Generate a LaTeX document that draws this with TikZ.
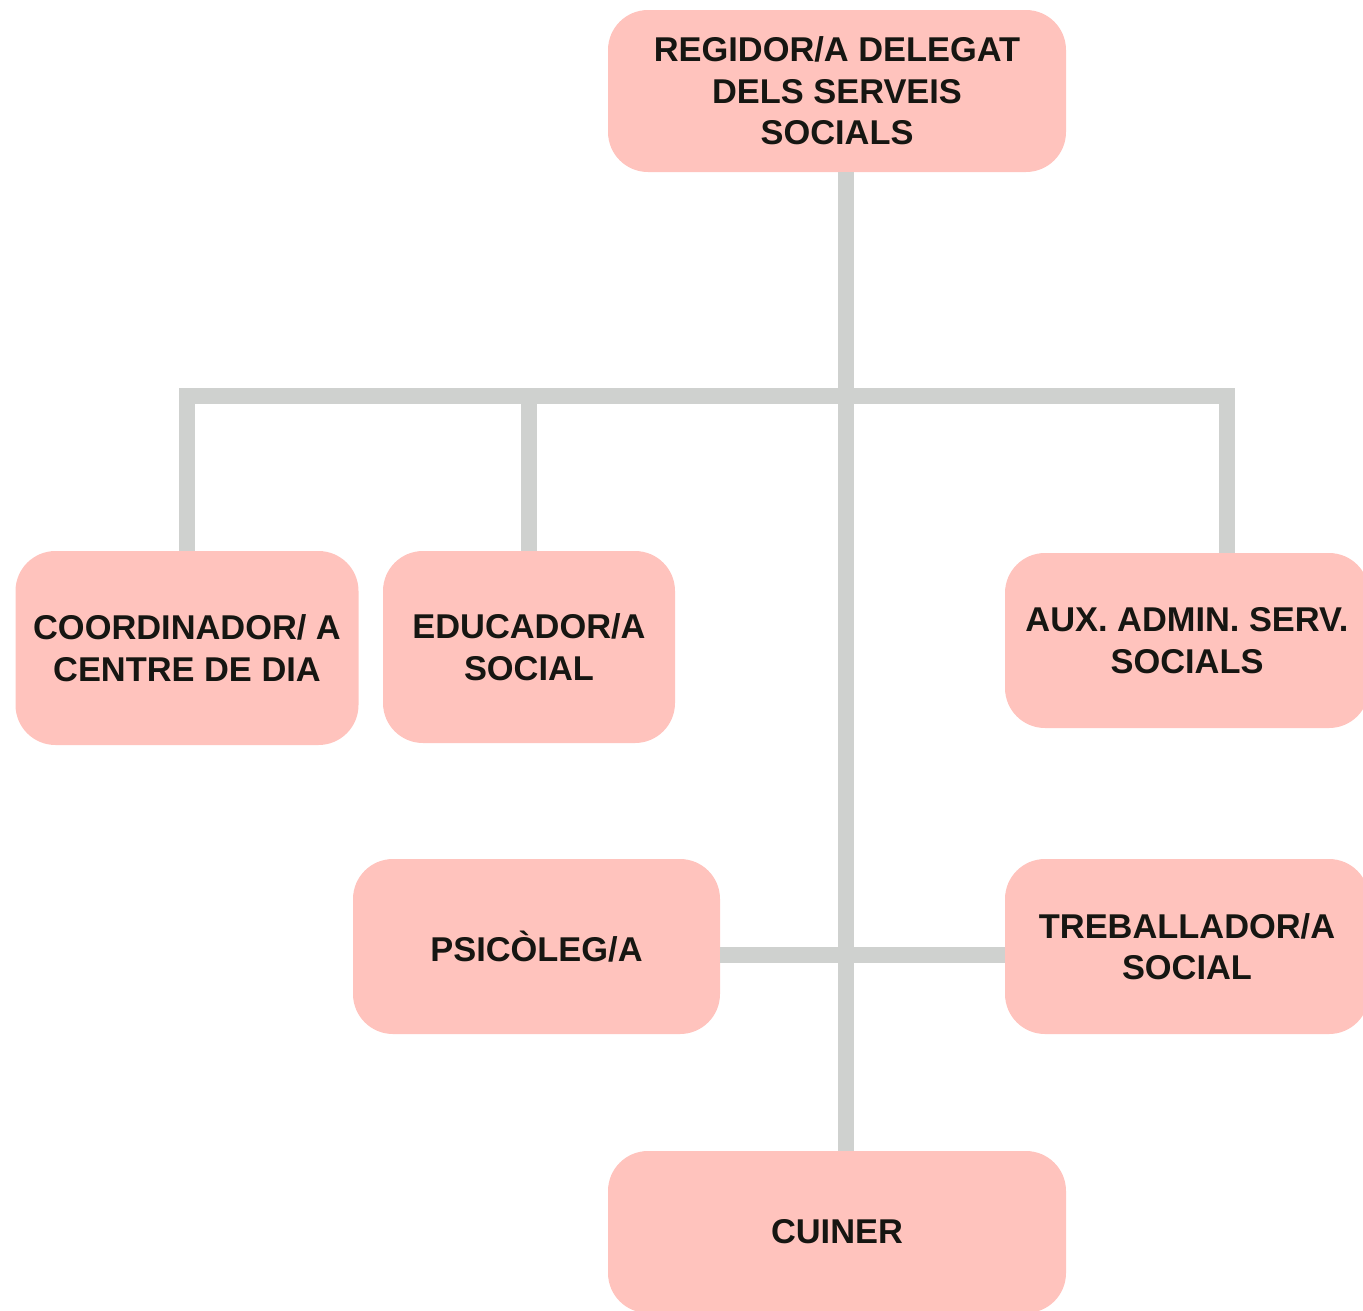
\documentclass[tikz,border=0pt]{standalone}
\usepackage{fontspec}
\setmainfont{Liberation Sans}
\definecolor{boxfill}{HTML}{FFC3BD}
\definecolor{linegray}{HTML}{CFD1CF}
\definecolor{txt}{HTML}{161612}
\begin{document}
\begin{tikzpicture}[x=1pt,y=-1pt,
  orgbox/.style={rectangle, rounded corners=40pt, fill=boxfill, draw=none,
    text=txt, align=center, inner sep=0pt,
    font=\bfseries\fontsize{34.4}{41.5}\selectfont},
  conn/.style={draw=linegray, line width=16pt}]
\useasboundingbox (0,0) rectangle (1363,1310);
\clip (0,0) rectangle (1363,1310);
\coordinate (j) at (845.5,396);
\coordinate (barL) at (187,396);
\coordinate (barR) at (1227,396);
\coordinate (mid) at (845.5,955);
\node[orgbox, minimum width=458pt, minimum height=162pt] (top) at (837,91) {REGIDOR/A DELEGAT\\DELS SERVEIS\\SOCIALS};
\node[orgbox, minimum width=343pt, minimum height=194pt] (coord) at (187,648) {COORDINADOR/ A\\CENTRE DE DIA};
\node[orgbox, minimum width=292pt, minimum height=192pt] (educ) at (529,647) {EDUCADOR/A\\SOCIAL};
\node[orgbox, minimum width=364pt, minimum height=175pt] (aux) at (1187,640.5) {AUX. ADMIN. SERV.\\SOCIALS};
\node[orgbox, minimum width=367pt, minimum height=175pt] (psi) at (536.5,946.5) {PSICÒLEG/A};
\node[orgbox, minimum width=364pt, minimum height=175pt] (treb) at (1187,946.5) {TREBALLADOR/A\\SOCIAL};
\node[orgbox, minimum width=458pt, minimum height=162pt] (cuiner) at (837,1232) {CUINER};
\draw[conn] (top.south -| j) -- (cuiner.north -| j);
\draw[conn] ([xshift=-8pt]barL) -- ([xshift=8pt]barR);
\draw[conn] (barL) -- (barL |- coord.north);
\draw[conn] (educ.north |- barL) -- (educ.north);
\draw[conn] (barR) -- (barR |- aux.north);
\draw[conn] (psi.east |- mid) -- (treb.west |- mid);
\end{tikzpicture}
\end{document}
